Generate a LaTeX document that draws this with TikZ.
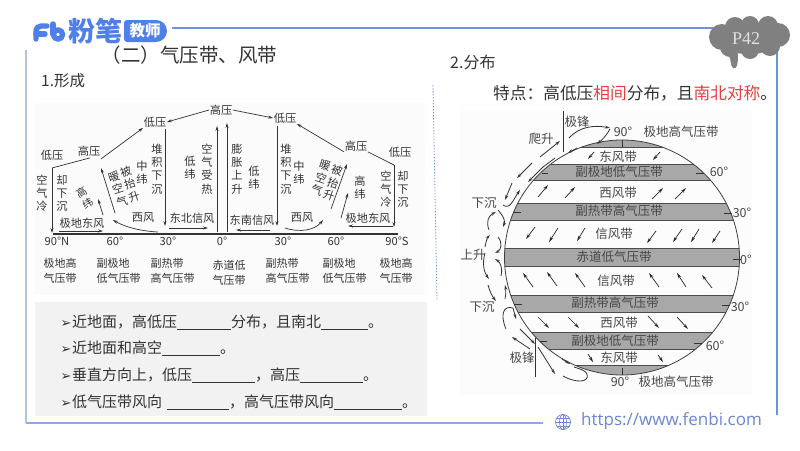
\documentclass[tikz,border=0pt]{standalone}
\usepackage{fontspec}
\setmainfont{Noto Sans CJK SC}
\newfontfamily\dejavu{DejaVu Sans}
\newfontfamily\opensans{Open Sans}
\newfontfamily\seriffont{Liberation Serif}
\usetikzlibrary{arrows.meta}
\definecolor{inkc}{HTML}{333333}
\definecolor{framec}{HTML}{7092D8}
\definecolor{framel}{HTML}{B4C2E0}
\definecolor{logoc}{HTML}{4F7FE8}
\definecolor{bandc}{HTML}{A8A8A8}
\definecolor{redc}{HTML}{E8403F}
\definecolor{urlc}{HTML}{6A86D6}
\newcommand{\blankline}[1]{\rule[-1.8pt]{#1pt}{0.6pt}}
\newcommand{\bul}{{\dejavu\fontsize{13}{13}\selectfont ➢}}
\tikzset{
 x=1pt,y=-1pt,
 lab/.style={font=\fontsize{11.2}{13.2}\selectfont,text=inkc,inner sep=0.5pt,align=center},
 blab/.style={font=\fontsize{12.5}{15}\selectfont,text=black!72,inner sep=0pt,align=center},
 arr/.style={draw=inkc,line width=0.7pt,-{Stealth[length=5pt,width=3pt]}},
 plain/.style={draw=inkc,line width=0.7pt},
 wind/.style={draw=black!85,line width=0.7pt,-{Stealth[length=5.5pt,width=3pt]}},
 flow/.style={draw=black!80,line width=0.8pt,-{Stealth[length=5pt,width=3pt]}},
 flowp/.style={draw=black!80,line width=0.8pt},
 bullet/.style={font=\fontsize{15}{18}\selectfont,text=inkc,inner sep=0pt,anchor=west},
 gtick/.style={draw=inkc,line width=0.8pt},
 bandedge/.style={draw=black!70,line width=0.9pt},
}
\begin{document}
\begin{tikzpicture}
\useasboundingbox (0,0) rectangle (800,450);
\fill[white] (0,0) rectangle (800,450);
% backgrounds
\fill[black!1.5] (35,103) rectangle (425,295);
\fill[black!1] (460,110) rectangle (752,395);
\fill[black!5] (35,302) rectangle (427,416);
% frame
\draw[framel,line width=1.8pt] (26,50) -- (26,423);
\draw[framec!80,line width=1.3pt] (25.5,423) -- (543,423);
\draw[framec,line width=1.3pt] (172,28) -- (730,28);
\draw[framec,line width=1.5pt] (777,50) -- (777,415);
\draw[framec,line width=0.8pt,dash pattern=on 1.5pt off 1.5pt] (433,85) -- (437,300);
% logo
\begin{scope}[logoc,line width=5.4pt,line cap=round,line join=round]
\draw (36,39) -- (36,31) arc[start angle=180,end angle=90,radius=5pt] -- (47,26);
\draw (36,34) -- (45,34);
\draw (53,24) -- (53,34);
\draw (58,34.5) circle[radius=4.6pt];
\end{scope}
\node[font=\fontsize{27}{30}\bfseries\selectfont,text=logoc,inner sep=0pt,anchor=center] (logotext) at (95,31) {粉笔};
\fill[logoc,rounded corners=3pt] (124,20) rectangle (150,42);
\fill[logoc] (145,20) -- (156,20) arc[start angle=90,end angle=-90,radius=11pt] -- (145,42) -- cycle;
\node[font=\fontsize{15.5}{18}\bfseries\selectfont,text=white,inner sep=0pt] (logotag) at (145,31) {教师};
% titles
\node[font=\fontsize{19.5}{22}\selectfont,text=inkc,inner sep=0pt,anchor=west] (title) at (101.5,55) {（二）气压带、风带};
\node[font=\fontsize{15.5}{18}\selectfont,text=inkc,inner sep=0pt,anchor=west] (s1) at (41,81) {1.形成};
\node[font=\fontsize{16}{18}\selectfont,text=inkc,inner sep=0pt,anchor=west] (s2) at (450,62) {2.分布};
\node[font=\fontsize{16.7}{20}\selectfont,text=inkc,inner sep=0pt,anchor=west] (feat) at (493,93) {特点：高低压\textcolor{redc}{相间}分布，且\textcolor{redc}{南北对称}。};
% left diagram pressure labels
\node[lab] (T) at (221,110) {高压};
\node[lab] (L1) at (155,122) {低压};
\node[lab] (H1) at (89,151) {高压};
\node[lab] (L0) at (52,155) {低压};
\node[lab] (R1) at (285,118) {低压};
\node[lab] (R2) at (356,146) {高压};
\node[lab] (R3) at (400,152) {低压};
\coordinate (aL) at (52,168);
\coordinate (aR) at (394,165);
\draw[arr] (T.west) -- (L1.east);
\draw[arr] (T.east) -- (R1.west);
\draw[arr] (H1.east |- 0,159) -- (L1.south west);
\draw[plain] (H1.south) ++(1,1) -- (aL);
\draw[arr] (aL) -- (52,233);
\draw[arr] (R2.south west) -- (R1.south east);
\draw[plain] (R2.south east) -- (aR);
\draw[arr] (aR) -- (394,227);
\draw[arr] (165,129) -- (165,226);
\draw[arr] (277,126) -- (277,226);
\draw[arr] (217,232) -- (217,126);
\draw[arr] (227,232) -- (227,123);
\draw[arr] (59,231) -- (103,231);
\draw[arr] (169,228) -- (208,228);
\draw[arr] (270,230) -- (236,230);
\draw[arr] (393,226) -- (348,226);
\draw[arr] (158,232) .. controls (140,231) and (125,227) .. (113,220);
\draw[arr] (285,228) .. controls (300,233) and (315,230) .. (323,220);
\draw[arr] (103,215) -- (98,199);
\draw[arr] (115,213) -- (101,168);
\draw[arr] (341,218) -- (348,193);
\draw[arr] (331,209) -- (347,164);
\draw[draw=inkc,line width=1.1pt] (53,234) -- (398,234);
% left diagram vertical labels
\node[lab] (a1) at (42,193) {空\\气\\冷};
\node[lab] (a2) at (62,193) {却\\下\\沉};
\node[lab,rotate=30,font=\fontsize{10.5}{12.5}\selectfont] (a3) at (84.5,197.5) {高\\纬};
\node[lab,rotate=18] (a4) at (118,189) {暖\\空\\气};
\node[lab,rotate=18] (a5) at (130,184) {被\\抬\\升};
\node[lab] (a6) at (142,173) {中\\纬};
\node[lab] (a7) at (157,169) {堆\\积\\下\\沉};
\node[lab] (a8) at (190,168) {低\\纬};
\node[lab] (a9) at (207,169) {空\\气\\受\\热};
\node[lab] (b1) at (237,169) {膨\\胀\\上\\升};
\node[lab] (b2) at (254,178) {低\\纬};
\node[lab] (b3) at (286,169) {堆\\积\\下\\沉};
\node[lab] (b4) at (299,173) {中\\纬};
\node[lab,rotate=-18] (b5) at (321,178) {暖\\空\\气};
\node[lab,rotate=-18] (b6) at (333,183) {被\\抬\\升};
\node[lab] (b7) at (360,188) {高\\纬};
\node[lab] (b8) at (386,189) {空\\气\\冷};
\node[lab] (b9) at (403,189) {却\\下\\沉};
\node[lab] (c1) at (82,223) {极地东风};
\node[lab] (c2) at (143,218) {西风};
\node[lab] (c3) at (192,218) {东北信风};
\node[lab] (c4) at (252,220) {东南信风};
\node[lab] (c5) at (302,218) {西风};
\node[lab] (c6) at (368,218) {极地东风};
\node[lab] (d1) at (57,241) {90°N};
\node[lab] (d2) at (115,241) {60°};
\node[lab] (d3) at (168,241) {30°};
\node[lab] (d4) at (222,241) {0°};
\node[lab] (d5) at (283,241) {30°};
\node[lab] (d6) at (336,241) {60°};
\node[lab] (d7) at (397,241) {90°S};
\tikzset{lab2/.style={lab,font=\fontsize{11}{15}\selectfont}}
\node[lab2] (e1) at (60,270.5) {极地高\\气压带};
\node[lab2,align=left,anchor=west] (e2) at (96,270.5) {副极地\\低气压带};
\node[lab2,align=left,anchor=west] (e3) at (150,270.5) {副热带\\高气压带};
\node[lab2] (e4) at (229,273) {赤道低\\气压带};
\node[lab2,align=left,anchor=west] (e5) at (265,270.5) {副热带\\高气压带};
\node[lab2,align=left,anchor=west] (e6) at (322,270.5) {副极地\\低气压带};
\node[lab2] (e7) at (396,270.5) {极地高\\气压带};
% bullets
\node[bullet] (q1) at (60.5,322) {\bul\hspace{0.5pt}近地面，高低压\blankline{54}分布，且南北\blankline{47}。};
\node[bullet] (q2) at (60.5,348) {\bul\hspace{0.5pt}近地面和高空\blankline{58}。};
\node[bullet] (q3) at (60.5,375) {\bul\hspace{0.5pt}垂直方向上，低压\blankline{63}，高压\blankline{63}。};
\node[bullet] (q4) at (60.5,402) {\bul\hspace{0.5pt}低气压带风向\hspace{5pt}\blankline{62}，高气压带风向\blankline{68}。};
% globe
\begin{scope}
\clip (622,257.5) circle[radius=117.5pt];
\foreach \ya/\yb in {130/147,164/180,203/220,248/266,295/312,332/349,365/385}{
  \fill[bandc] (500,\ya) rectangle (745,\yb);
  \draw[bandedge] (500,\ya) -- (745,\ya);
  \draw[bandedge] (500,\yb) -- (745,\yb);
}
\end{scope}
\draw[draw=black!75,line width=0.8pt] (622,257.5) circle[radius=117.5pt];
% ticks
\draw[gtick] (622,140) -- (622,147);
\draw[gtick] (622,368) -- (622,375);
\draw[gtick] (696,173) -- (704,173);
\draw[gtick] (724,213) -- (732,213);
\draw[gtick] (733,259) -- (741,259);
\draw[gtick] (722,305) -- (730,305);
\draw[gtick] (694,343) -- (702,343);
\draw[gtick] (542,173) -- (548,173);
\draw[gtick] (513,212) -- (521,212);
\draw[gtick] (514,304) -- (522,304);
\draw[gtick] (540,341) -- (547,341);
% band labels
\node[blab] (g1) at (618,157) {东风带};
\node[blab] (g2) at (619,172) {副极地低气压带};
\node[blab] (g3) at (618,193) {西风带};
\node[blab] (g4) at (619,211) {副热带高气压带};
\node[blab] (g5) at (614,234) {信风带};
\node[blab] (g6) at (614,257) {赤道低气压带};
\node[blab] (g7) at (616,281) {信风带};
\node[blab] (g8) at (615,303) {副热带高气压带};
\node[blab] (g9) at (619,323) {西风带};
\node[blab] (g10) at (615,341) {副极地低气压带};
\node[blab] (g11) at (619,358) {东风带};
\node[blab] (h1) at (623,132) {90°};
\node[blab] (h2) at (681,132) {极地高气压带};
\node[blab] (h3) at (719,172) {60°};
\node[blab] (h4) at (742,213) {30°};
\node[blab] (h5) at (746,260) {0°};
\node[blab] (h6) at (740,307) {30°};
\node[blab] (h7) at (715,346) {60°};
\node[blab] (h8) at (620,382) {90°};
\node[blab] (h9) at (676,382) {极地高气压带};
\node[blab] (k1) at (577,122) {极锋};
\node[blab] (k2) at (522,358) {极锋};
\node[blab] (k3) at (541,139) {爬升};
\node[blab] (k4) at (484,203) {下沉};
\node[blab] (k5) at (473,255) {上升};
\node[blab] (k6) at (482,307) {下沉};
% wind arrows
\foreach \a/\b/\c/\d in {
 594/152/588/159, 660/152/653/160,
 538/197/548/185, 565/198/575/187, 652/199/663/188, 675/199/686/188,
 535/227/526/239, 558/228/549/242, 585/228/577/241, 656/231/647/243, 682/229/673/242, 699/229/691/242, 720/231/712/243,
 533/287/523/273, 557/286/547/272, 585/287/575/273, 659/287/649/273, 686/287/677/273, 712/288/702/275,
 538/317/549/328, 568/317/579/328, 648/316/659/328, 677/317/688/329,
 588/354/593/362, 658/355/663/362}{
 \draw[wind] (\a,\b) -- (\c,\d);
}
% polar fronts
\draw[flowp] (563,111) -- (563,152);
\draw[flowp] (535,338) -- (535,377);
% circulation north
\draw[flow] (569,138) .. controls (580,126) and (595,125) .. (610,128);
\draw[flow] (610,129) .. controls (606,136) and (602,140) .. (597,144);
\draw[flow] (577,148) -- (568,153);
\draw[flow] (540,157) -- (560,141);
\draw[flow] (532,163) -- (517,178);
\draw[flowp] (555,158) -- (543,167);
\draw[flow] (543,167) -- (528,182);
\draw[flow] (512,183) -- (505,200);
\draw[flow] (503,205) .. controls (510,210) and (513,200) .. (520,190);
\draw[flow] (498,210) .. controls (505,218) and (505,222) .. (503,227);
\draw[flow] (489,230) .. controls (486,222) and (488,216) .. (496,212);
\draw[flow] (485,247) .. controls (486,242) and (487,238) .. (490,235);
\draw[flow] (498,237) .. controls (503,243) and (501,250) .. (495,253);
% circulation south
\draw[flow] (485,253) .. controls (482,264) and (484,272) .. (489,279);
\draw[flow] (501,276) .. controls (503,268) and (500,262) .. (495,259);
\draw[flow] (488,285) .. controls (490,292) and (492,296) .. (496,301);
\draw[flow] (505,299) .. controls (506,294) and (506,290) .. (505,285);
\draw[flowp] (506,329) .. controls (500,315) and (503,305) .. (513,308);
\draw[flow] (513,308) -- (516,319);
\draw[flow] (520,329) -- (535,344);
\draw[flow] (530,349) -- (512,337);
\draw[flow] (538,347) -- (555,374);
\draw[flow] (562,359) -- (570,364);
\draw[flowp] (563,376) .. controls (575,383) and (590,383) .. (587,374) .. controls (585,370) and (580,369) .. (574,367);
% callout
\begin{scope}[black!50]
\fill (748,38) ellipse[x radius=34pt,y radius=16pt];
\foreach \cx/\cy/\cr in {722/37/13,735/27/10,750/25/9,768/26/10,778/35/12,770/46/10,750/50/9,730/47/10}{
 \fill (\cx,\cy) circle[radius=\cr pt];
}
\fill (728,54) .. controls (732,60) and (730,66) .. (733,68) .. controls (737,70) and (738,64) .. (738,54) -- cycle;
\end{scope}
\node[font=\seriffont\fontsize{18}{20}\selectfont,text=black!12,inner sep=0pt] (page) at (746,39) {P42};
% url
\begin{scope}[urlc,line width=0.7pt]
\draw (563,422) circle[radius=7.5pt];
\draw (563,422) ellipse[x radius=3.5pt,y radius=7.5pt];
\draw (555.5,422) -- (570.5,422);
\draw (556.5,418) -- (569.5,418);
\draw (556.5,426) -- (569.5,426);
\draw (563,414.5) -- (563,429.5);
\end{scope}
\node[font=\opensans\fontsize{17}{18}\selectfont,text=urlc,inner sep=0pt,anchor=west] (url) at (581,421) {https://www.fenbi.com};
\end{tikzpicture}
\end{document}
